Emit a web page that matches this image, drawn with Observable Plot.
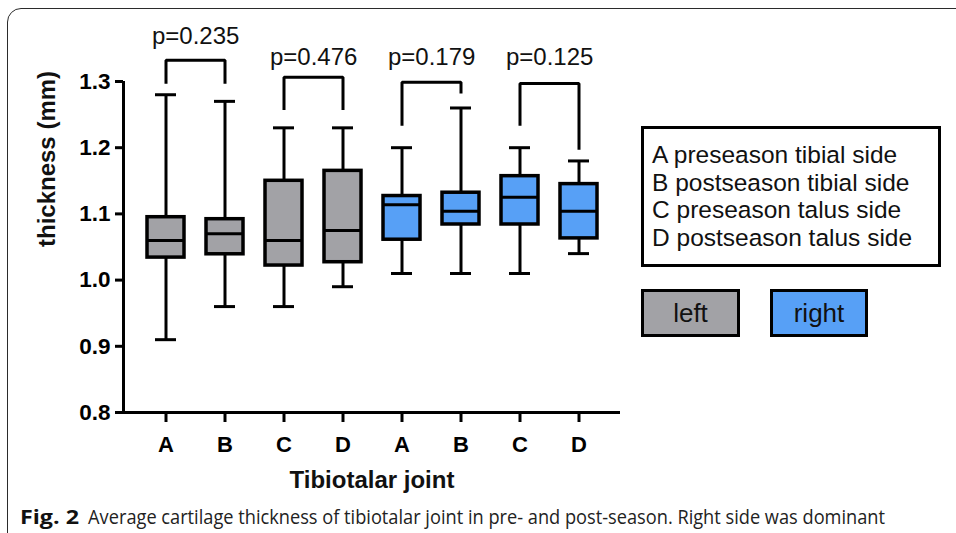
<!DOCTYPE html>
<html>
<head>
<meta charset="utf-8">
<script src="https://cdn.jsdelivr.net/npm/d3@7"></script>
<script src="https://cdn.jsdelivr.net/npm/@observablehq/plot@0.6"></script>
<style>
  html, body { margin: 0; padding: 0; background: #fff; overflow: hidden; }
  #wrap { position: relative; width: 956px; height: 533px; overflow: hidden; font-family: "Liberation Sans", Arial, sans-serif; }
  #border { position: absolute; left: 7px; top: 8px; width: 1000px; height: 540px; border: 1.5px solid #2b2b2b; border-radius: 14px 0 0 14px; box-sizing: border-box; }
  #chart { position: absolute; left: 0; top: 0; }
  .legbox { position: absolute; border: 3px solid #000; box-sizing: border-box; font-size: 24.5px; color: #111; }
  #legtext { left: 641px; top: 126px; width: 300px; height: 141px; padding: 12px 0 0 8px; line-height: 27.7px; }
  .swatch { top: 289px; height: 48px; text-align: center; line-height: 42px; font-size: 26px; }
  #caption { position: absolute; left: 20px; top: 503px; font-family: "Open Sans", "Noto Sans", sans-serif; font-size: 20px; color: #222; white-space: nowrap; }
  #caption b { font-weight: 700; color: #111; display: inline-block; transform-origin: 0 50%; }
  #capRest { display: inline-block; transform-origin: 0 50%; }
</style>
</head>
<body>
<div id="wrap">
  <div id="border"></div>
  <div id="chart"></div>
  <div id="legtext" class="legbox"></div>
  <div id="legLeft" class="legbox swatch"></div>
  <div id="legRight" class="legbox swatch"></div>
  <div id="caption"><b id="capBold"></b><span id="capRest"></span></div>
</div>
<script>
// ---- data ----
const sides   = ["left", "left", "left", "left", "right", "right", "right", "right"];
const letters = ["A", "B", "C", "D", "A", "B", "C", "D"];
const mins    = [0.91, 0.96, 0.96, 0.99, 1.01, 1.01, 1.01, 1.04];
const q1s     = [1.034, 1.039, 1.022, 1.027, 1.061, 1.084, 1.084, 1.063];
const medians = [1.06, 1.07, 1.06, 1.075, 1.114, 1.104, 1.125, 1.104];
const q3s     = [1.095, 1.092, 1.15, 1.165, 1.127, 1.132, 1.157, 1.145];
const maxs    = [1.28, 1.27, 1.23, 1.23, 1.20, 1.26, 1.20, 1.18];

const pairLeft   = [0, 2, 4, 6];
const pairRight  = [1, 3, 5, 7];
const pLabels    = ["p=0.235", "p=0.476", "p=0.179", "p=0.125"];
const pLabelY    = [1.369, 1.337, 1.337, 1.337];
const bracketTop = [1.332, 1.3065, 1.299, 1.297];
const bracketLeftEnd  = [1.2965, 1.257, 1.233, 1.233];
const bracketRightEnd = [1.2965, 1.257, 1.282, 1.197];

const yTicks = [0.8, 0.9, 1.0, 1.1, 1.2, 1.3];
const legendLines = ["A preseason tibial side", "B postseason tibial side", "C preseason talus side", "D postseason talus side"];
const sideNames = ["left", "right"];
const sideColors = ["#a2a2a6", "#57a0f6"];
const xTitle = "Tibiotalar joint";
const yTitle = "thickness (mm)";
const captionBold = "Fig. 2";
const captionText = "Average cartilage thickness of tibiotalar joint in pre- and post-season. Right side was dominant";

// ---- build tables ----
const keys = sides.map((s, i) => s + "|" + letters[i]);
const boxes = keys.map((k, i) => ({key: k, side: sides[i], min: mins[i], q1: q1s[i], median: medians[i], q3: q3s[i], max: maxs[i]}));
const bracketPts = [];
pairLeft.forEach((l, j) => {
  const r = pairRight[j];
  bracketPts.push({g: j, key: keys[l], y: bracketLeftEnd[j]});
  bracketPts.push({g: j, key: keys[l], y: bracketTop[j]});
  bracketPts.push({g: j, key: keys[r], y: bracketTop[j]});
  bracketPts.push({g: j, key: keys[r], y: bracketRightEnd[j]});
});
const pTexts = pairLeft.map((l, j) => ({key: keys[l], y: pLabelY[j], text: pLabels[j]}));

const W = 956, H = 500, mL = 123, mR = 336, mT = 81, mB = 88;
const padding = 0.38;
const frameW = W - mL - mR;
const step = frameW / (keys.length + padding);

const chart = Plot.plot({
  width: W, height: H,
  marginLeft: mL, marginRight: mR, marginTop: mT, marginBottom: mB,
  style: {fontFamily: "'Liberation Sans', Arial, sans-serif", color: "#000", background: "transparent", overflow: "visible"},
  x: {type: "band", domain: keys, padding: padding, label: null},
  y: {domain: [0.8, 1.3], label: null},
  color: {domain: sideNames, range: sideColors},
  marks: [
    Plot.axisY({ticks: yTicks, tickSize: 8, tickPadding: 5, tickFormat: d3.format(".1f"), fontSize: 22.5, fontWeight: "bold", strokeWidth: 3, label: null}),
    Plot.axisX({tickSize: 10, tickPadding: 14, tickFormat: d => d.split("|")[1], fontSize: 22, fontWeight: "bold", strokeWidth: 3, label: null}),
    Plot.ruleY([0.8], {strokeWidth: 3}),
    Plot.ruleX([0], {x: null, dx: -frameW / 2, strokeWidth: 3}),
    Plot.ruleX(boxes, {x: "key", y1: "min", y2: "max", strokeWidth: 3}),
    Plot.tickY(boxes, {x: "key", y: "max", insetLeft: 8, insetRight: 8, strokeWidth: 3}),
    Plot.tickY(boxes, {x: "key", y: "min", insetLeft: 8, insetRight: 8, strokeWidth: 3}),
    Plot.barY(boxes, {x: "key", y1: "q1", y2: "q3", fill: "side", stroke: "#000", strokeWidth: 3.5}),
    Plot.tickY(boxes, {x: "key", y: "median", strokeWidth: 3}),
    Plot.line(bracketPts, {x: "key", y: "y", z: "g", strokeWidth: 3, strokeLinejoin: "miter", strokeLinecap: "butt"}),
    Plot.text(pTexts, {x: "key", y: "y", text: "text", dx: step / 2, fontSize: 24, fill: "#111"}),
    Plot.text([yTitle], {frameAnchor: "left", rotate: -90, dx: -76, fontSize: 24, fontWeight: "bold", fill: "#111"}),
    Plot.text([xTitle], {frameAnchor: "bottom", dy: 75, fontSize: 24, fontWeight: "bold", fill: "#111"})
  ]
});
document.getElementById("chart").appendChild(chart);

// ---- legend ----
document.getElementById("legtext").innerHTML = legendLines.map(t => "<div>" + t + "</div>").join("");
const ll = document.getElementById("legLeft");
ll.textContent = sideNames[0]; ll.style.left = "641px"; ll.style.width = "99px"; ll.style.background = sideColors[0];
const lr = document.getElementById("legRight");
lr.textContent = sideNames[1]; lr.style.left = "770px"; lr.style.width = "98px"; lr.style.background = sideColors[1];

// ---- caption ----
const bold = document.getElementById("capBold");
bold.textContent = captionBold;
const bw = bold.getBoundingClientRect().width;
bold.style.transform = "scaleX(" + (59 / bw) + ")";
bold.style.width = "59px";
const rest = document.getElementById("capRest");
rest.textContent = "\u2002" + captionText;
const targetW = 885 - 79;
const actual = rest.getBoundingClientRect().width;
rest.style.transform = "scaleX(" + (targetW / actual) + ")";
</script>
</body>
</html>
